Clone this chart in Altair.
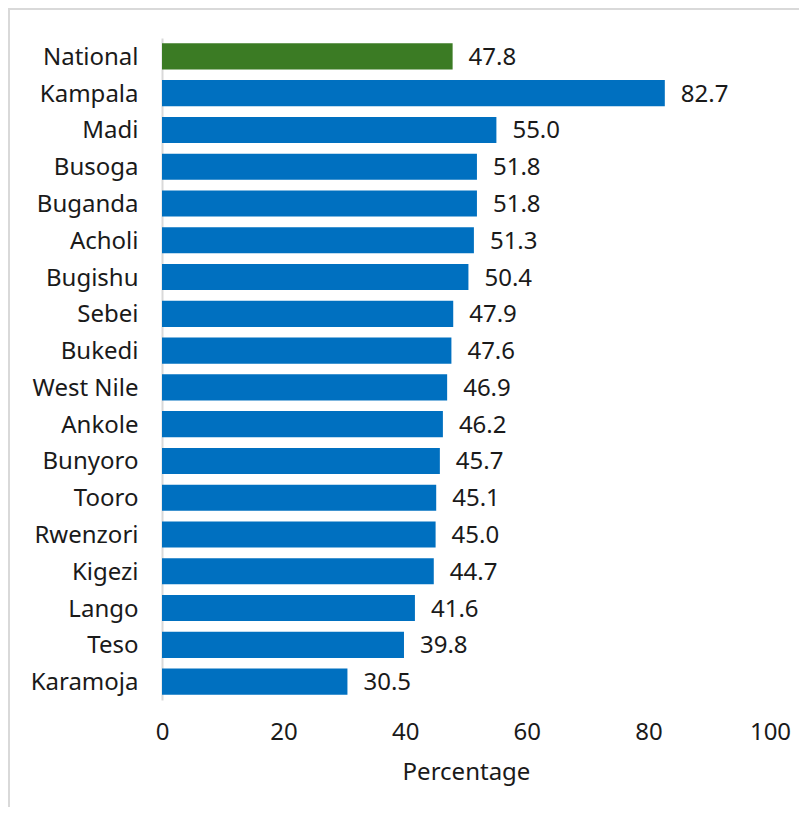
import altair as alt
import pandas as pd

regions = ["National", "Kampala", "Madi", "Busoga", "Buganda", "Acholi", "Bugishu",
           "Sebei", "Bukedi", "West Nile", "Ankole", "Bunyoro", "Tooro", "Rwenzori",
           "Kigezi", "Lango", "Teso", "Karamoja"]
values = [47.8, 82.7, 55.0, 51.8, 51.8, 51.3, 50.4, 47.9, 47.6, 46.9, 46.2, 45.7,
          45.1, 45.0, 44.7, 41.6, 39.8, 30.5]
groups = ["National"] + ["Region"] * 17

df = pd.DataFrame({"region": regions, "value": values, "group": groups})
df["label"] = df["value"].map(lambda v: f"{v:.1f}")

FONT = "Noto Sans"
FS = 24
W, H = 608, 662

y_enc = alt.Y("region:N", sort=regions, title=None,
              scale=alt.Scale(paddingInner=0.29, paddingOuter=0.145),
              axis=alt.Axis(labelFontSize=FS, labelFont=FONT, labelColor="#1a1a1a",
                            labelPadding=24, labelOffset=1.5, ticks=False,
                            domainColor="#d9d9d9", domainWidth=2))
x_enc = alt.X("value:Q", title="Percentage",
              scale=alt.Scale(domain=[0, 100], nice=False),
              axis=alt.Axis(values=[0, 20, 40, 60, 80, 100], grid=False, domain=False,
                            ticks=False, labelFontSize=FS, labelFont=FONT,
                            labelFlush=False,
                            labelColor="#1a1a1a", labelPadding=20,
                            titleFontSize=FS, titleFont=FONT, titleFontWeight="normal",
                            titleColor="#1a1a1a", titlePadding=16))

bars = alt.Chart(df).mark_bar().encode(
    x=x_enc, y=y_enc,
    color=alt.Color("group:N", scale=alt.Scale(domain=["National", "Region"],
                                               range=["#3b7b24", "#0070c0"]),
                    legend=None),
)

text = alt.Chart(df).mark_text(align="left", baseline="middle", dx=16, dy=1.5,
                               fontSize=FS, font=FONT, color="#1a1a1a").encode(
    x="value:Q", y=alt.Y("region:N", sort=regions), text="label:N")

border_df = pd.DataFrame({"k": [0]})
border = alt.Chart(border_df).mark_rect(fill=None, stroke="#d9d9d9", strokeWidth=2,
                                        clip=False).encode(
    x=alt.value(-153), x2=alt.value(W + 200), y=alt.value(-29), y2=alt.value(H + 200))

chart = alt.layer(border, bars, text).properties(
    width=W, height=H,
    padding={"left": 154, "top": 30, "right": 29, "bottom": 107},
    autosize=alt.AutoSizeParams(type="none"),
).configure_view(stroke=None)

chart.save("out.html", embed_options={"renderer": "svg", "actions": False})
